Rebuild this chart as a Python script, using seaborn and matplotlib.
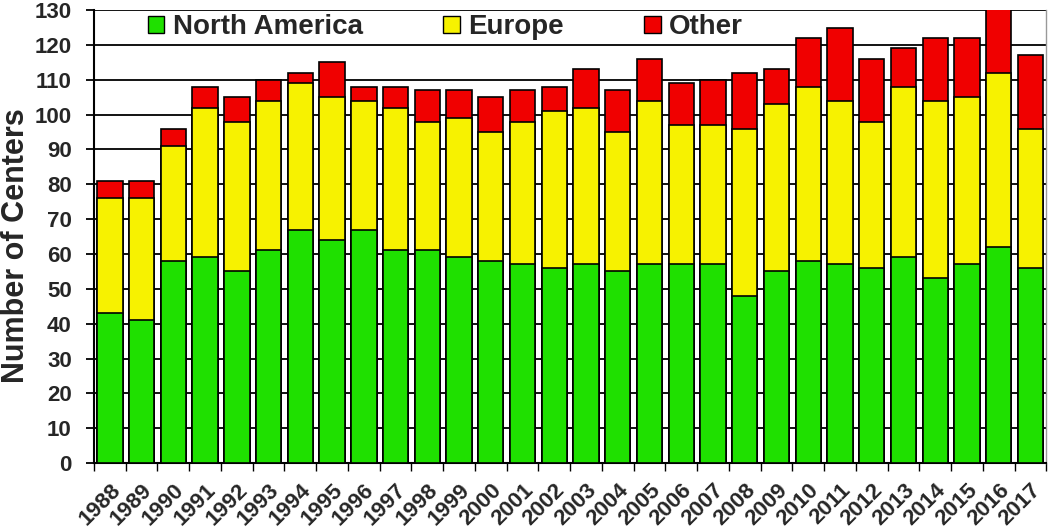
import numpy as np
import pandas as pd
import matplotlib
matplotlib.use("Agg")
import matplotlib.pyplot as plt
import seaborn as sns
from matplotlib.patches import Patch

years = [str(y) for y in range(1988, 2018)]
north_america = [43, 41, 58, 59, 55, 61, 67, 64, 67, 61, 61, 59, 58, 57, 56, 57, 55, 57, 57, 57,
                 48, 55, 58, 57, 56, 59, 53, 57, 62, 56]
europe = [33, 35, 33, 43, 43, 43, 42, 41, 37, 41, 37, 40, 37, 41, 45, 45, 40, 47, 40, 40,
          48, 48, 50, 47, 42, 49, 51, 48, 50, 40]
other = [5, 5, 5, 6, 7, 6, 3, 10, 4, 6, 9, 8, 10, 9, 7, 11, 12, 12, 12, 13,
         16, 10, 14, 21, 18, 11, 18, 17, 20, 21]

df = pd.DataFrame({"year": years, "na": north_america, "eu": europe, "ot": other})
df["na_eu"] = df["na"] + df["eu"]
df["total"] = df["na_eu"] + df["ot"]

sns.set_theme(style="white")
plt.rcParams["font.family"] = ["Liberation Sans", "DejaVu Sans"]
plt.rcParams["font.weight"] = "bold"

c_green = "#1fe000"
c_yellow = "#f7f200"
c_red = "#f00000"

fig = plt.figure(figsize=(10.5, 5.31), dpi=100)
ax = fig.add_axes([0.0895, 0.128, 0.907, 0.853])

kw = dict(edgecolor="black", linewidth=1.2, width=0.8, ax=ax, zorder=3)
sns.barplot(data=df, x="year", y="total", color=c_red, saturation=1, **kw)
sns.barplot(data=df, x="year", y="na_eu", color=c_yellow, saturation=1, **kw)
sns.barplot(data=df, x="year", y="na", color=c_green, saturation=1, **kw)

ax.set_ylim(0, 130)
ax.set_xlim(-0.5, len(years) - 0.5)
ax.set_yticks(np.arange(0, 131, 10))
ax.yaxis.grid(True, color="black", linewidth=1.3, zorder=0)
ax.set_axisbelow(True)

ax.spines["top"].set_visible(False)
ax.spines["right"].set_color("#999999")
ax.spines["right"].set_linewidth(1)
ax.spines["left"].set_color("black")
ax.spines["left"].set_linewidth(1.5)
ax.spines["bottom"].set_color("black")
ax.spines["bottom"].set_linewidth(1.5)

ax.tick_params(axis="y", which="major", direction="out", length=6, width=1.3, color="black",
               labelsize=16, pad=10, left=True)
ax.set_xticks(np.arange(-0.5, len(years), 1.0), minor=True)
ax.tick_params(axis="x", which="minor", direction="out", length=6, width=1, color="black", bottom=True)
ax.tick_params(axis="x", which="major", length=0, labelsize=16, pad=12)
for lbl in ax.get_xticklabels():
    lbl.set_rotation(45)
    lbl.set_ha("right")
    lbl.set_va("top")
    lbl.set_rotation_mode("anchor")
    lbl.set_fontweight("bold")
for lbl in ax.get_yticklabels():
    lbl.set_fontweight("bold")

ax.set_xlabel("")
ax.set_ylabel("Number of Centers", fontsize=22, fontweight="bold")
ax.yaxis.set_label_coords(-0.066, 0.48)

handles = [Patch(facecolor=c_green, edgecolor="black", label="North America"),
           Patch(facecolor=c_yellow, edgecolor="black", label="Europe"),
           Patch(facecolor=c_red, edgecolor="black", label="Other")]
leg = ax.legend(handles=handles, loc="center", bbox_to_anchor=(0.369, 0.962), ncol=3,
                frameon=False, prop={"size": 20, "weight": "bold"}, handlelength=0.6,
                handleheight=0.6, handletextpad=0.3, columnspacing=2.9)
leg.set_zorder(5)

fig.savefig("out.png", dpi=100, facecolor="white")
